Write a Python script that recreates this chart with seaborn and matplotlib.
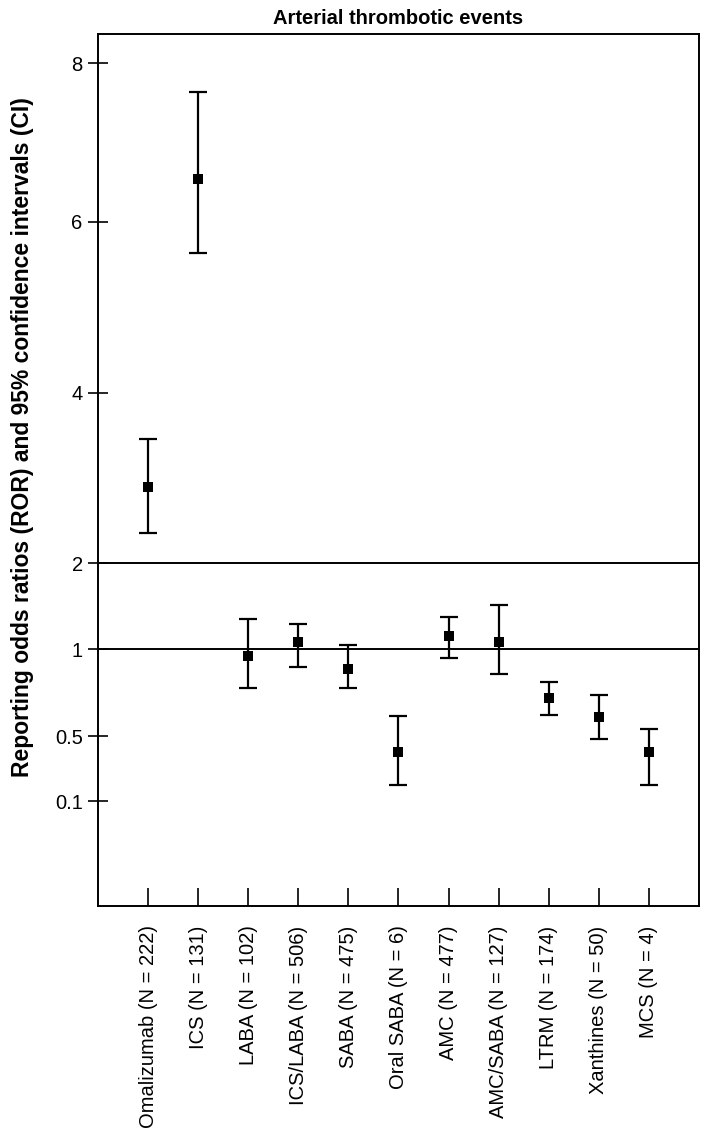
import numpy as np
import pandas as pd
import seaborn as sns
import matplotlib
matplotlib.use("Agg")
import matplotlib.pyplot as plt

# data (ROR with 95% CI)
drugs = ["Omalizumab", "ICS", "LABA", "ICS/LABA", "SABA", "Oral SABA",
         "AMC", "AMC/SABA", "LTRM", "Xanthines", "MCS"]
n_reports = [222, 131, 102, 506, 475, 6, 477, 127, 174, 50, 4]
ror = [2.89, 6.54, 0.96, 1.09, 0.885, 0.40, 1.15, 1.08, 0.72, 0.61, 0.40]
ci_low = [2.36, 5.63, 0.78, 0.90, 0.78, 0.20, 0.95, 0.86, 0.62, 0.48, 0.20]
ci_high = [3.46, 7.64, 1.35, 1.30, 1.05, 0.615, 1.38, 1.52, 0.81, 0.74, 0.54]

ytick_vals = [0.1, 0.5, 1, 2, 4, 6, 8]
ytick_labels = ["0.1", "0.5", "1", "2", "4", "6", "8"]

# the original axis is hand-stretched, not linear or log
axis_vals = [-0.546, 0.1, 0.5, 1, 2, 4, 6, 8, 8.365]
axis_pos = [0, 105, 170, 257, 343, 514, 685, 844, 873]


def fwd(v):
    return np.interp(v, axis_vals, axis_pos)


def inv(p):
    return np.interp(p, axis_pos, axis_vals)


df = pd.DataFrame({"drug": drugs, "n": n_reports, "ror": ror,
                   "lo": ci_low, "hi": ci_high})
df["pos"] = np.arange(len(df))
df["label"] = [f"{d} (N = {n})" for d, n in zip(df["drug"], df["n"])]

sns.set_style("ticks")
plt.rcParams["font.family"] = ["Liberation Sans", "DejaVu Sans"]
plt.rcParams.update({"text.color": "black", "axes.labelcolor": "black",
                     "xtick.color": "black", "ytick.color": "black",
                     "axes.edgecolor": "black"})

fig = plt.figure(figsize=(7.11, 11.44), dpi=100)
ax = fig.add_axes([0.1378, 0.208, 0.8453, 0.7622])
ax.set_yscale("function", functions=(fwd, inv))

ax.axhline(2, color="black", lw=1.4, zorder=1)
ax.axhline(1, color="black", lw=1.4, zorder=1)

ax.errorbar(df["pos"], df["ror"],
            yerr=[df["ror"] - df["lo"], df["hi"] - df["ror"]],
            fmt="none", ecolor="black", elinewidth=1.6,
            capsize=6.5, capthick=1.6, zorder=2)
sns.scatterplot(data=df, x="pos", y="ror", marker="s", s=55,
                color="black", edgecolor="black", linewidth=0,
                ax=ax, zorder=3, legend=False)

ax.set_xlim(-1, len(df))
ax.set_ylim(axis_vals[0], axis_vals[-1])
ax.set_xticks(df["pos"])
ax.set_xticklabels(df["label"], rotation=90, fontsize=14.5)
ax.set_yticks(ytick_vals)
ax.set_yticklabels(ytick_labels, fontsize=14.5)
ax.yaxis.set_minor_locator(matplotlib.ticker.NullLocator())
ax.tick_params(axis="y", direction="inout", length=14, width=1.2, pad=4)
ax.tick_params(axis="x", direction="in", length=13, width=1.2, pad=14)
for s in ax.spines.values():
    s.set_linewidth(1.4)
    s.set_color("black")
    s.set_visible(True)

ax.set_xlabel("")
ax.set_ylabel("Reporting odds ratios (ROR) and 95% confidence intervals (CI)",
              fontsize=16.5, fontweight="bold")
ax.yaxis.set_label_coords(-0.106, 0.538)
ax.set_title("Arterial thrombotic events", fontsize=14.5, fontweight="bold", pad=7)

fig.savefig("out.png", dpi=100)
